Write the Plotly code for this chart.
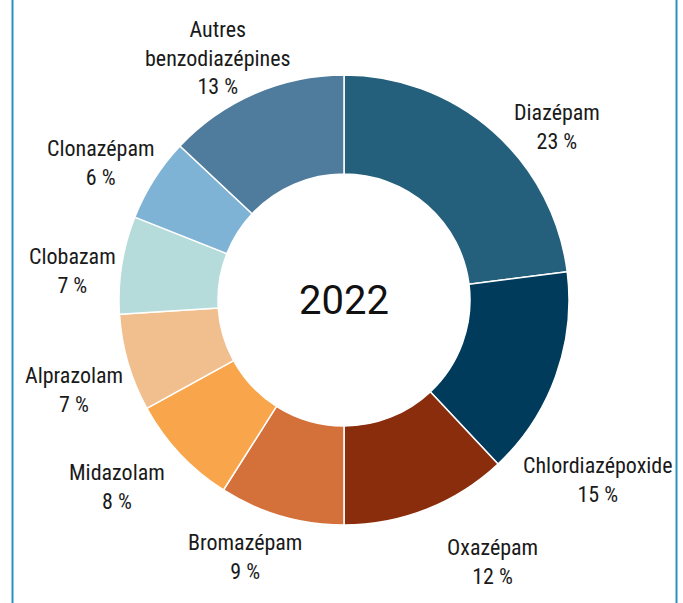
import math
import plotly.graph_objects as go

# ---- data ----
categories = ["Diazépam", "Chlordiazépoxide", "Oxazépam", "Bromazépam", "Midazolam",
              "Alprazolam", "Clobazam", "Clonazépam", "Autres<br>benzodiazépines"]
shares = [23, 15, 12, 9, 8, 7, 7, 6, 13]
colors = ["#245f7c", "#003b5c", "#8a2d0d", "#d4713b", "#f8a54b",
          "#f1bf8e", "#b5dbdb", "#7fb3d5", "#4f7b9d"]
center_label = "2022"

# ---- layout geometry (pixels) ----
W, H = 683, 603
CX, CY, R = 344, 300, 225
# label placement: radial distance and angular nudge (deg) from slice mid-angle
label_r = [275, 311, 301, 275, 294, 285, 273, 279, 273]
label_nudge = [9.5, 15.5, -7.9, 4.9, 3.6, -2.2, -3.0, -3.0, -4.2]

fig = go.Figure(go.Pie(
    labels=categories,
    values=shares,
    sort=False,
    direction="clockwise",
    rotation=0,
    hole=0.56,
    marker=dict(colors=colors, line=dict(color="white", width=1.5)),
    textinfo="none",
    hoverinfo="label+percent",
    domain=dict(x=[(CX - R) / W, (CX + R) / W], y=[1 - (CY + R) / H, 1 - (CY - R) / H]),
    showlegend=False,
))

label_font = dict(family="Roboto Condensed, Liberation Sans Narrow, DejaVu Sans Condensed, Roboto, sans-serif",
                  size=22, color="#1a1a1a")

total = sum(shares)
cum = 0
annotations = []
for i, (cat, v) in enumerate(zip(categories, shares)):
    mid = (cum + v / 2) / total * 360 + label_nudge[i]
    cum += v
    px = CX + label_r[i] * math.sin(math.radians(mid))
    py = CY - label_r[i] * math.cos(math.radians(mid))
    annotations.append(dict(
        x=px / W, y=1 - py / H, xref="paper", yref="paper",
        text=f"{cat}<br>{round(v / total * 100)} %", showarrow=False,
        xanchor="center", yanchor="middle", align="center", font=label_font,
    ))

annotations.append(dict(
    x=CX / W, y=1 - CY / H, xref="paper", yref="paper", text=center_label,
    showarrow=False, xanchor="center", yanchor="middle",
    font=dict(family="Roboto, Arial, sans-serif", size=40, color="#111111"),
))

shapes = [
    dict(type="line", xref="paper", yref="paper", x0=12.5 / W, x1=12.5 / W,
         y0=0, y1=1, line=dict(color="#2a8fc4", width=2)),
    dict(type="line", xref="paper", yref="paper", x0=676.5 / W, x1=676.5 / W,
         y0=0, y1=1, line=dict(color="#2a8fc4", width=2)),
]

fig.update_layout(
    width=W, height=H,
    margin=dict(l=0, r=0, t=0, b=0),
    paper_bgcolor="white", plot_bgcolor="white",
    annotations=annotations, shapes=shapes,
)

fig.write_html(
    "out.html",
    config={"displayModeBar": False},
    post_script="document.body.style.margin='0';document.body.style.overflow='hidden';",
)
